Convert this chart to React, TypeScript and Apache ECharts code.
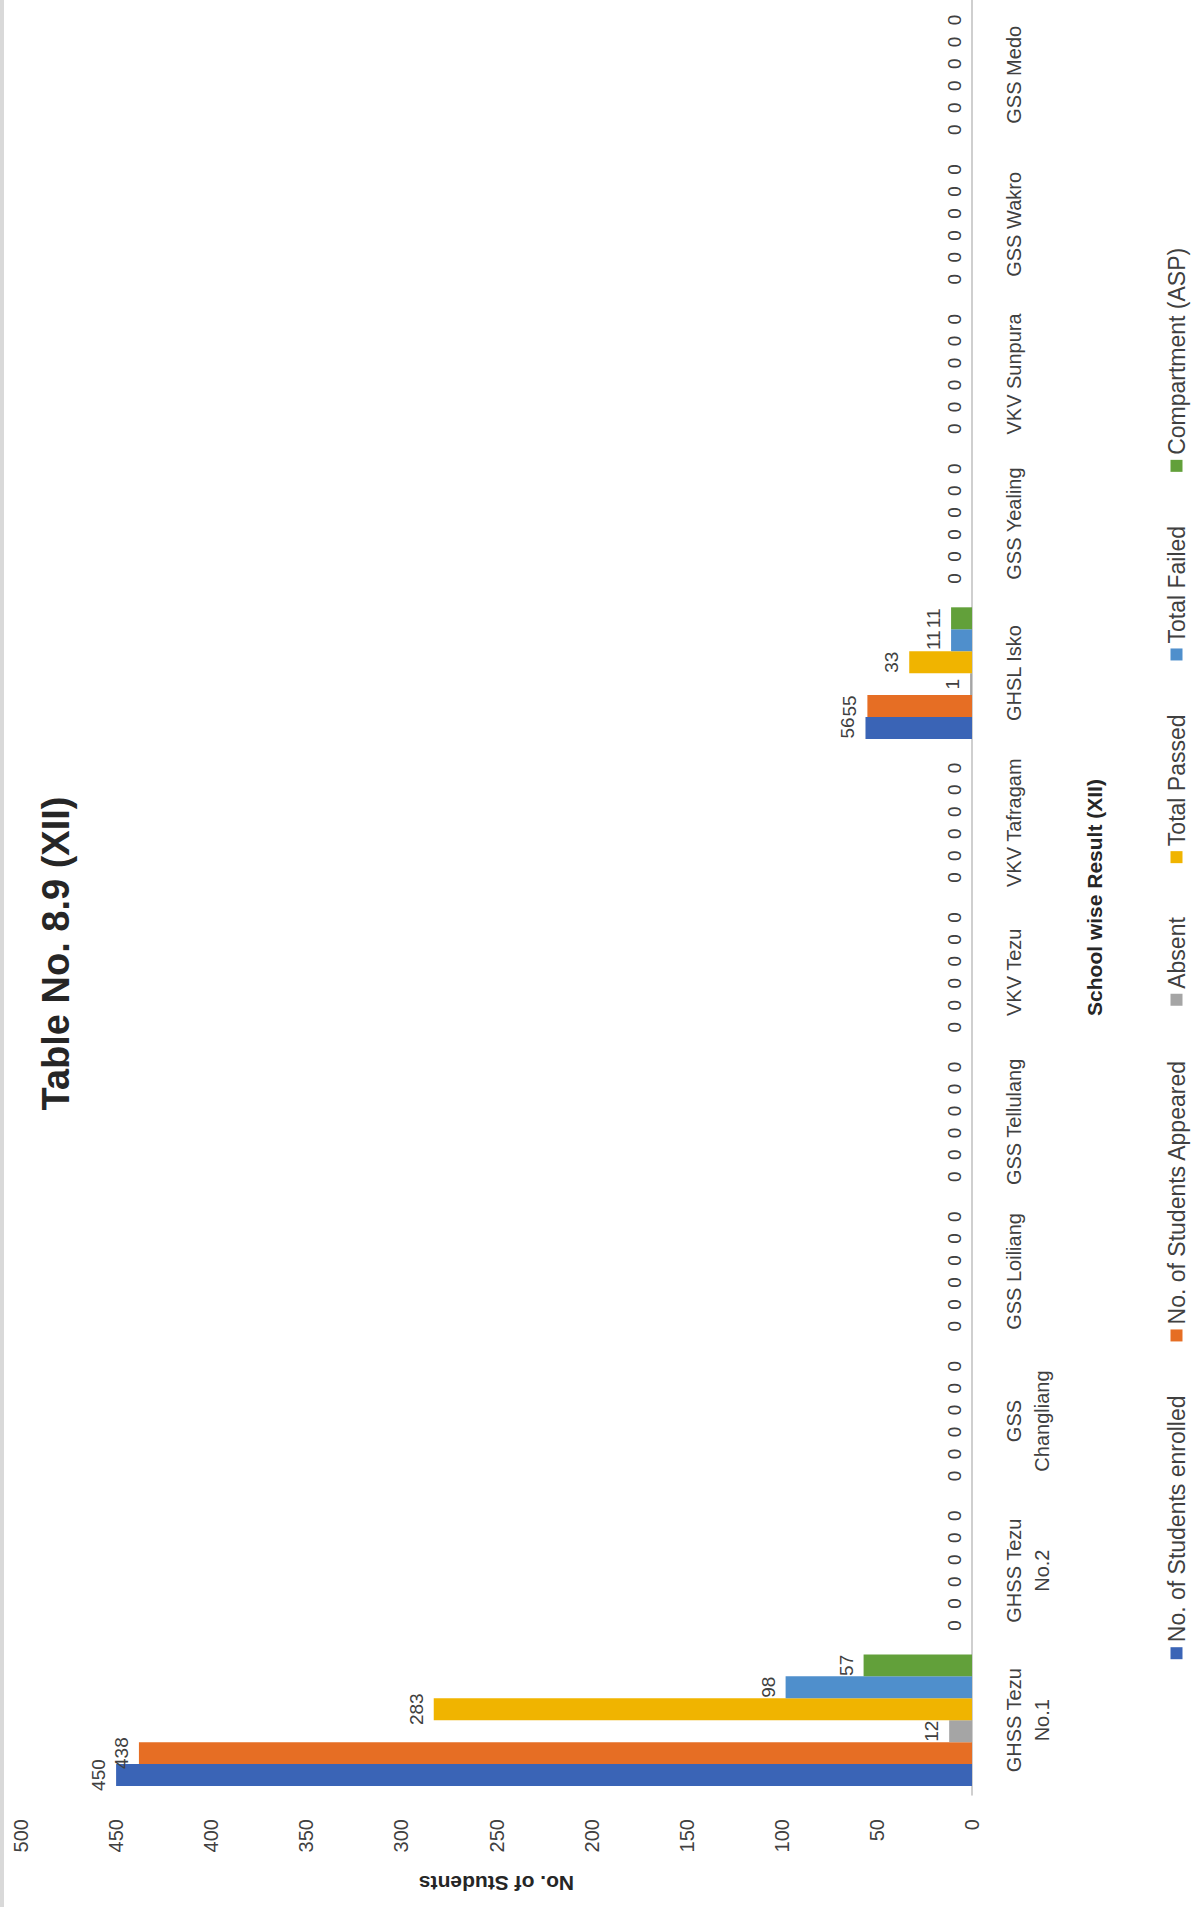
import React, { useEffect, useRef } from "react";
import * as echarts from "echarts";

const categories = [
  "GHSS Tezu No.1",
  "GHSS Tezu No.2",
  "GSS Changliang",
  "GSS Loiliang",
  "GSS Tellulang",
  "VKV Tezu",
  "VKV Tafragam",
  "GHSL Isko",
  "GSS Yealing",
  "VKV Sunpura",
  "GSS Wakro",
  "GSS Medo",
];

const enrolled = [450, 0, 0, 0, 0, 0, 0, 56, 0, 0, 0, 0];
const appeared = [438, 0, 0, 0, 0, 0, 0, 55, 0, 0, 0, 0];
const absent = [12, 0, 0, 0, 0, 0, 0, 1, 0, 0, 0, 0];
const passed = [283, 0, 0, 0, 0, 0, 0, 33, 0, 0, 0, 0];
const failed = [98, 0, 0, 0, 0, 0, 0, 11, 0, 0, 0, 0];
const compartment = [57, 0, 0, 0, 0, 0, 0, 11, 0, 0, 0, 0];

const seriesNames = [
  "No. of Students enrolled",
  "No. of Students Appeared",
  "Absent",
  "Total Passed",
  "Total Failed",
  "Compartment (ASP)",
];
const seriesData = [enrolled, appeared, absent, passed, failed, compartment];
const colors = ["#3A64B6", "#E66E24", "#A5A5A5", "#F0B400", "#4F8FCC", "#62A03A"];

const FONT = "'Liberation Sans', Arial, sans-serif";
const W = 1907;
const H = 1191;

export default function App() {
  const ref = useRef<HTMLDivElement>(null);

  useEffect(() => {
    if (!ref.current) return;
    const chart = echarts.init(ref.current, undefined, { renderer: "svg" });
    const option: any = {
      animation: false,
      backgroundColor: "#ffffff",
      textStyle: { fontFamily: FONT },
      title: {
        text: "Table No. 8.9 (XII)",
        left: "center",
        top: 32,
        textStyle: { fontSize: 38, fontWeight: "bold", color: "#262626", fontFamily: FONT },
      },
      graphic: [
        { type: "rect", left: 0, top: 0, shape: { width: W, height: 4 }, style: { fill: "#D9D9D9" } },
      ],
      grid: { left: 112, right: 0, top: 21, bottom: 219, containLabel: false },
      legend: {
        top: 1160,
        left: "center",
        icon: "rect",
        itemWidth: 12,
        itemHeight: 12,
        itemGap: 54,
        data: seriesNames,
        textStyle: { fontSize: 23, color: "#404040", fontFamily: FONT },
      },
      xAxis: {
        type: "category",
        data: categories,
        axisLine: { show: true, lineStyle: { color: "#BFBFBF", width: 1.5 } },
        axisTick: { show: false },
        axisLabel: {
          interval: 0,
          fontSize: 20,
          color: "#404040",
          margin: 28,
          lineHeight: 28,
          fontFamily: FONT,
          formatter: (v: string) =>
            v.replace(/^(GHSS Tezu) /, "$1\n").replace(/^GSS (Changliang)$/, "GSS\n$1"),
        },
        name: "School wise Result (XII)",
        nameLocation: "middle",
        nameGap: 112,
        nameTextStyle: { fontSize: 21, fontWeight: "bold", color: "#262626", fontFamily: FONT },
      },
      yAxis: {
        type: "value",
        min: 0,
        max: 500,
        interval: 50,
        splitLine: { show: false },
        axisLine: { show: false },
        axisTick: { show: false },
        axisLabel: { fontSize: 20, color: "#404040", margin: 24, fontFamily: FONT },
        name: "No. of Students",
        nameLocation: "middle",
        nameGap: 78,
        nameRotate: 90,
        nameTextStyle: { fontSize: 21, fontWeight: "bold", color: "#262626", fontFamily: FONT },
      },
      series: seriesNames.map((name, i) => ({
        name,
        type: "bar",
        data: seriesData[i],
        barGap: "0%",
        barCategoryGap: "12%",
        itemStyle: { color: colors[i] },
        label: {
          show: true,
          position: "top",
          distance: 8,
          fontSize: 19,
          color: "#404040",
          fontFamily: FONT,
        },
      })),
    };
    chart.setOption(option);
    return () => chart.dispose();
  }, []);

  return (
    <div
      style={{
        position: "fixed",
        left: 0,
        top: 0,
        width: H,
        height: W,
        overflow: "hidden",
        background: "#ffffff",
      }}
    >
      <div
        ref={ref}
        style={{
          position: "absolute",
          left: 0,
          top: 0,
          width: W,
          height: H,
          transformOrigin: "0 0",
          transform: `translate(0px, ${W}px) rotate(-90deg)`,
        }}
      />
    </div>
  );
}
